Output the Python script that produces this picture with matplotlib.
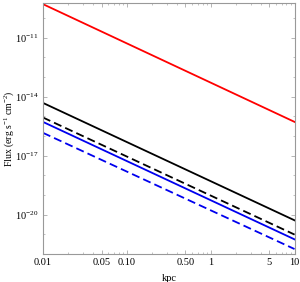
import matplotlib
matplotlib.use("Agg")
import matplotlib.pyplot as plt
from matplotlib.ticker import FixedLocator, FixedFormatter, LogLocator, NullFormatter

plt.rcParams['font.family'] = ['Liberation Serif', 'DejaVu Serif']
plt.rcParams['mathtext.fontset'] = 'custom'
plt.rcParams['mathtext.rm'] = 'Liberation Serif'
plt.rcParams['mathtext.it'] = 'Liberation Serif:italic'

# Data: distance (kpc) endpoints and flux values
distance = [0.01, 10]
flux_red = [5.0e-10, 5.2e-16]
flux_black = [4.8e-15, 5.2e-21]
flux_black_dashed = [8.7e-16, 9.8e-22]
flux_blue = [5.2e-16, 5.6e-22]
flux_blue_dashed = [1.45e-16, 1.8e-22]

xtick_vals = [0.01, 0.05, 0.10, 0.50, 1, 5, 10]
xtick_labels = ["0.01", "0.05", "0.10", "0.50", "1", "5", "10"]
ytick_vals = [1e-20, 1e-17, 1e-14, 1e-11]
ytick_labels = [r"$10^{-20}$", r"$10^{-17}$", r"$10^{-14}$", r"$10^{-11}$"]

fig = plt.figure(figsize=(3.0, 2.82), dpi=100)
ax = fig.add_axes([0.143, 0.099, 0.840, 0.890])

lw = 1.3
ax.plot(distance, flux_red, color='#ff0000', lw=lw)
ax.plot(distance, flux_black, color='black', lw=lw)
ax.plot(distance, flux_black_dashed, color='black', lw=lw, dashes=(4.5, 2.3))
ax.plot(distance, flux_blue, color='#0000ee', lw=lw)
ax.plot(distance, flux_blue_dashed, color='#0000ee', lw=lw, dashes=(4.5, 2.3))

ax.set_xscale('log')
ax.set_yscale('log')
ax.set_xlim(0.01, 10.1)
ax.set_ylim(1e-22, 10**-9.25)

ax.xaxis.set_major_locator(FixedLocator(xtick_vals))
ax.xaxis.set_major_formatter(FixedFormatter(xtick_labels))
ax.xaxis.set_minor_locator(LogLocator(base=10, subs=range(1, 10)))
ax.xaxis.set_minor_formatter(NullFormatter())
ax.yaxis.set_major_locator(FixedLocator(ytick_vals))
ax.yaxis.set_major_formatter(FixedFormatter(ytick_labels))
ax.yaxis.set_minor_locator(LogLocator(base=10, subs=[1.0], numticks=20))
ax.yaxis.set_minor_formatter(NullFormatter())

for s in ax.spines.values():
    s.set_color('#999999')
    s.set_linewidth(0.8)
ax.tick_params(which='both', direction='in', color='#aaaaaa', labelsize=7.5,
               top=True, right=True, pad=3)
ax.tick_params(which='major', length=3, width=0.6)
ax.tick_params(which='minor', length=1.5, width=0.5)

ax.set_xlabel('kpc', fontsize=7.5, labelpad=5)
ax.set_ylabel(r'Flux (erg s$^{-1}$ cm$^{-2}$)', fontsize=7)
ax.yaxis.set_label_coords(-0.105, 0.5)

fig.savefig('out.png', dpi=100)
